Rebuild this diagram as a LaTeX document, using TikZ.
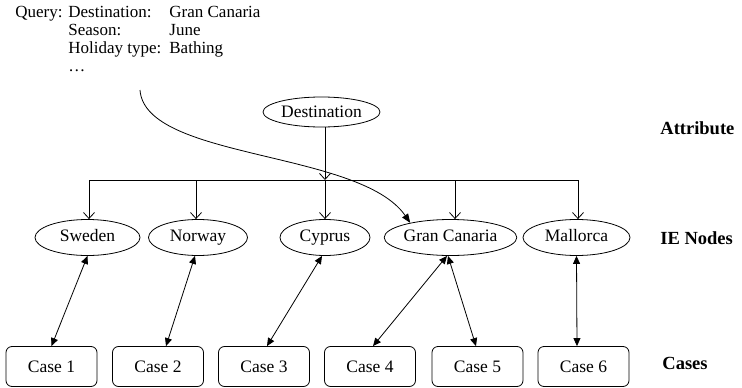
\documentclass[tikz,border=0pt]{standalone}
\usepackage{fontspec}
\setmainfont{Liberation Serif}
\usetikzlibrary{arrows.meta,shapes.geometric}
\tikzset{ienode/.style={ellipse,draw,inner sep=0pt,minimum height=36pt,text height=12pt,text depth=4pt},attr/.style={ellipse,draw,inner sep=0pt,minimum width=117pt,minimum height=30pt},casebox/.style={rectangle,draw,rounded corners=6pt,inner sep=0pt,minimum width=91pt,minimum height=40pt},feed/.style={-{Straight Barb[length=6pt,width=11pt]}},link/.style={{Triangle[length=8pt,width=7pt]}-{Triangle[length=8pt,width=7pt]}},query/.style={-{Triangle[length=9pt,width=7pt]}},level/.style={anchor=west,inner sep=0pt,font=\fontsize{18.5}{20}\selectfont\bfseries},every picture/.style={line width=.8pt}}

\begin{document}
\begin{tikzpicture}[x=1pt,y=-1pt,font=\fontsize{17.5}{18}\selectfont]
\useasboundingbox (0,0) rectangle (742,388);
% query box, upper left
\node[anchor=north west,inner sep=0pt,align=left,font=\fontsize{17}{18}\selectfont] (q) at (15,6) {\makebox[53pt][l]{Query:}\makebox[101pt][l]{Destination:}Gran Canaria\\\hspace*{53pt}\makebox[101pt][l]{Season:}June\\\hspace*{53pt}\makebox[101pt][l]{Holiday type:}Bathing\\\hspace*{53pt}\dots};
\coordinate (qs) at (140,90);
% attribute node and bus
\node[attr] (dest) at (321.5,112) {Destination};
\foreach \i/\x in {1/89,2/196,3/325,4/455,5/578}{\coordinate (b\i) at (\x,180);}
\draw (b1)--(b5);
\draw[feed] (dest.south -| b3)--(b3);
% IE nodes
\foreach \n/\x/\w/\t in {s/87.5/105/Sweden,n/198/99/Norway,cy/325/90/Cyprus,gc/450.5/115/Gran Canaria,m/576.5/107/Mallorca}{\node[ienode,minimum width=\w pt] (\n) at (\x,237.5) {\t};}
\foreach \i/\n in {1/s,2/n,3/cy,4/gc,5/m}{\draw[feed] (b\i)--(b\i |- \n.north);}
% cases
\foreach \i/\x in {1/51.5,2/158,3/264,4/370,5/477.5,6/583.5}{\node[casebox] (c\i) at (\x,366.5) {Case \i};}
\foreach \a/\da/\b/\db in {s/0/c1/0,n/-3/c2/8,cy/-3/c3/3,gc/-3.5/c4/3,gc/-2.5/c5/-1.5,m/0/c6/-6.5}{\draw[link] ([xshift=\da pt]\a.south)--([xshift=\db pt]\b.north);}
\draw[query] (qs) .. controls (145,160) and (360,150) .. (gc.160);
% level labels
\node[level] (la) at (660,128) {Attribute};
\node[level] (li) at (660,238) {IE Nodes};
\node[level] (lc) at (662,363) {Cases};
\end{tikzpicture}
\end{document}
